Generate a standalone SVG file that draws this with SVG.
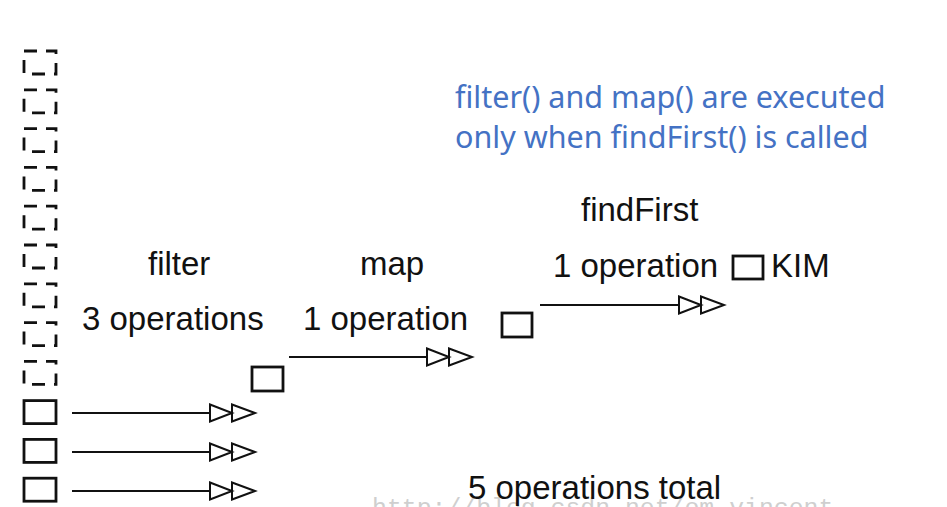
<svg xmlns="http://www.w3.org/2000/svg" width="947" height="507" viewBox="0 0 947 507">
<style>
.t{font-family:"Liberation Sans",Arial,sans-serif;font-size:33px;fill:#111}
.note{font-family:"Noto Sans","Open Sans",sans-serif;font-size:30.5px;fill:#4472C4}
.wm{font-family:"Liberation Mono","Courier New",monospace;font-size:24.8px;fill:#cfcfcf}
.dash{fill:none;stroke:#111;stroke-width:2.8;stroke-dasharray:13 9}
.box{fill:none;stroke:#111;stroke-width:2.8}
.conn{fill:none;stroke:#111;stroke-width:2.2;marker-end:url(#dbl)}
</style>
<defs>
<marker id="dbl" markerUnits="userSpaceOnUse" markerWidth="50" markerHeight="20" viewBox="-1 -10 48 20" refX="0" refY="0" orient="auto" overflow="visible">
<path d="M0,-8.5 L22,0 L0,8.5 Z M22,-8.5 L45,0 L22,8.5 Z" fill="#fff" stroke="#111" stroke-width="2" stroke-linejoin="miter"/>
</marker>
</defs>
<rect width="947" height="507" fill="#fff"/>
<text class="wm" x="372" y="515">http://blog.csdn.net/om_vincent</text>
<g id="stream">
<rect class="dash" x="24" y="51" width="32" height="23"/>
<rect class="dash" x="24" y="89.8" width="32" height="23"/>
<rect class="dash" x="24" y="128.6" width="32" height="23"/>
<rect class="dash" x="24" y="167.4" width="32" height="23"/>
<rect class="dash" x="24" y="206.2" width="32" height="23"/>
<rect class="dash" x="24" y="245" width="32" height="23"/>
<rect class="dash" x="24" y="283.8" width="32" height="23"/>
<rect class="dash" x="24" y="322.6" width="32" height="23"/>
<rect class="dash" x="24" y="361.4" width="32" height="23"/>
<rect class="box" x="24" y="400.6" width="32" height="23"/>
<rect class="box" x="24" y="439.4" width="32" height="23"/>
<rect class="box" x="24" y="478.2" width="32" height="23"/>
</g>
<g id="filter">
<text class="t" x="148" y="275">filter</text>
<text class="t" x="82" y="330">3 operations</text>
<rect class="box" x="252" y="367" width="31" height="24"/>
</g>
<g id="map">
<text class="t" x="360" y="275">map</text>
<text class="t" x="303" y="330">1 operation</text>
<rect class="box" x="502" y="313" width="30" height="24"/>
</g>
<g id="findFirst">
<text class="t" x="581" y="221">findFirst</text>
<text class="t" x="553" y="277">1 operation</text>
<rect class="box" x="733" y="256" width="30" height="23"/>
<text class="t" x="771" y="277">KIM</text>
</g>
<g id="total">
<text class="t" x="468" y="499">5 operations total</text>
</g>
<g id="note">
<text class="note" x="455" y="108">filter() and map() are executed</text>
<text class="note" x="455" y="148">only when findFirst() is called</text>
</g>
<g id="connectors">
<path class="conn" d="M72,413 H210"/>
<path class="conn" d="M72,452 H210"/>
<path class="conn" d="M72,491 H210"/>
<path class="conn" d="M289,357 H427"/>
<path class="conn" d="M540,305 H679"/>
</g>
</svg>
